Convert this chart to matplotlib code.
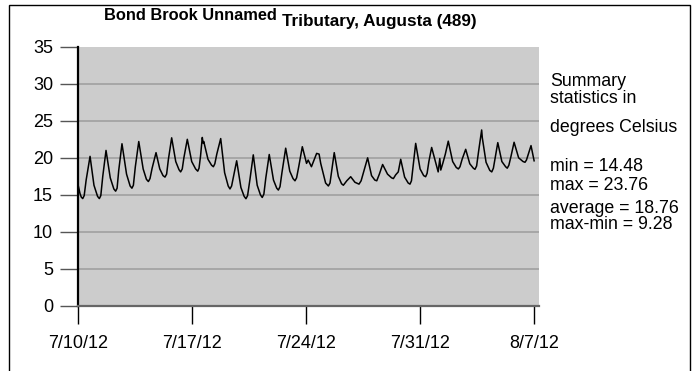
import matplotlib
matplotlib.use("Agg")
import matplotlib.pyplot as plt
from matplotlib.patches import Rectangle

plt.rcParams['font.family'] = ['Liberation Sans', 'DejaVu Sans']

# days since 7/10/12 00:00, water temperature (deg C)
days = [0.00, 0.12, 0.20, 0.29, 0.38, 0.50, 0.74, 0.98, 1.20, 1.31,
        1.40, 1.52, 1.72, 1.98, 2.20, 2.31, 2.40, 2.50, 2.70, 2.98,
        3.20, 3.31, 3.40, 3.52, 3.73, 4.00, 4.20, 4.32, 4.42, 4.55,
        4.79, 5.02, 5.22, 5.34, 5.44, 5.55, 5.75, 6.00, 6.20, 6.30,
        6.40, 6.50, 6.71, 6.98, 7.22, 7.35, 7.43, 7.52, 7.63, 7.68,
        7.72, 7.98, 8.20, 8.31, 8.40, 8.52, 8.76, 9.00, 9.22, 9.33,
        9.43, 9.55, 9.74, 10.00, 10.20, 10.31, 10.41, 10.55, 10.76, 11.00,
        11.20, 11.31, 11.41, 11.53, 11.74, 12.00, 12.20, 12.30, 12.40, 12.52,
        12.75, 13.00, 13.20, 13.32, 13.42, 13.55, 13.77, 14.03, 14.13, 14.33,
        14.65, 14.80, 14.90, 15.20, 15.37, 15.47, 15.58, 15.73, 15.98, 16.18,
        16.29, 16.50, 16.74, 17.00, 17.25, 17.38, 17.52, 17.78, 18.02, 18.22,
        18.34, 18.50, 18.70, 19.00, 19.25, 19.36, 19.50, 19.66, 19.81, 20.05,
        20.27, 20.38, 20.47, 20.58, 20.73, 21.00, 21.22, 21.34, 21.43, 21.54,
        21.71, 22.11, 22.21, 22.27, 22.40, 22.55, 22.73, 23.00, 23.22, 23.35,
        23.45, 23.58, 23.80, 24.05, 24.27, 24.37, 24.47, 24.60, 24.78, 24.82,
        25.05, 25.28, 25.40, 25.50, 25.60, 25.77, 26.02, 26.25, 26.35, 26.45,
        26.57, 26.77, 27.05, 27.32, 27.44, 27.53, 27.63, 27.81, 28.00]
temps = [16.4, 15.2, 14.7, 14.5, 14.9, 17.0, 20.2, 16.3, 14.8, 14.5,
         14.9, 17.5, 21.0, 17.3, 15.8, 15.5, 15.9, 18.3, 21.9, 17.8,
         16.2, 15.9, 16.3, 18.8, 22.2, 18.5, 17.1, 16.8, 17.2, 18.6,
         20.7, 18.5, 17.6, 17.4, 17.8, 19.8, 22.7, 19.5, 18.4, 18.1,
         18.5, 20.0, 22.5, 19.5, 18.5, 18.2, 18.6, 20.2, 22.75, 22.0,
         22.2, 19.8, 19.0, 18.8, 19.2, 20.5, 22.6, 18.0, 16.2, 15.8,
         16.2, 17.5, 19.6, 16.0, 14.8, 14.48, 14.9, 17.0, 20.4, 16.3,
         15.0, 14.65, 15.1, 17.3, 20.45, 17.0, 15.9, 15.65, 16.1, 18.0,
         21.3, 18.2, 17.2, 16.9, 17.3, 18.8, 21.5, 19.25, 19.7, 18.8,
         20.6, 20.5, 19.25, 16.6, 16.2, 16.6, 18.3, 20.7, 17.5, 16.5,
         16.3, 16.9, 17.45, 16.7, 16.45, 16.9, 18.0, 20.0, 17.6, 17.0,
         16.9, 17.8, 19.1, 17.8, 17.3, 17.2, 17.7, 18.1, 19.8, 17.4,
         16.6, 16.45, 16.9, 19.0, 21.95, 18.5, 17.6, 17.45, 17.9, 19.5,
         21.4, 18.1, 19.9, 18.35, 19.3, 20.5, 22.25, 19.5, 18.7, 18.5,
         18.8, 19.8, 21.15, 19.2, 18.6, 18.45, 18.9, 21.0, 23.76, 22.7,
         19.4, 18.3, 18.1, 18.6, 19.9, 22.05, 19.5, 18.8, 18.6, 19.0,
         20.1, 22.1, 20.0, 19.5, 19.4, 19.7, 20.4, 21.65, 19.6]

x_ticks = [0, 7, 14, 21, 28]
x_labels = ['7/10/12', '7/17/12', '7/24/12', '7/31/12', '8/7/12']
y_ticks = [0, 5, 10, 15, 20, 25, 30, 35]

stats_text = ['Summary', 'statistics in', 'degrees Celsius',
              'min = 14.48', 'max = 23.76', 'average = 18.76', 'max-min = 9.28']
stats_base = [86, 103, 131.5, 171, 190, 212.5, 229.5]   # pixel baselines

W, H = 695, 371
fig = plt.figure(figsize=(W / 100, H / 100), dpi=100)
ax = fig.add_axes([78 / W, 1 - 306 / H, (539 - 78) / W, (306 - 46.7) / H])

ax.set_facecolor('#cccccc')
ax.plot(days, temps, color='black', lw=1.1)

ax.set_xlim(0, 28.3)
ax.set_ylim(0, 35)
ax.set_xticks(x_ticks)
ax.set_xticklabels(x_labels)
ax.set_yticks(y_ticks)

for y in y_ticks[1:-1]:
    ax.axhline(y, color='#a0a0a0', lw=1.2, zorder=0.5)

ax.tick_params(axis='y', length=13, width=1, color='#555555', pad=5, labelsize=13)
ax.tick_params(axis='x', length=13, width=1, color='black', pad=8, labelsize=13)

for s in ['top', 'right']:
    ax.spines[s].set_visible(False)
ax.spines['left'].set_color('black')
ax.spines['left'].set_linewidth(1.6)
ax.spines['bottom'].set_color('#666666')
ax.spines['bottom'].set_linewidth(1.6)

# title is split, second half sits a bit lower
fig.text(277 / W, 1 - 20.5 / H, 'Bond Brook Unnamed', ha='right', va='baseline',
         fontsize=11.8, fontweight='bold')
fig.text(282 / W, 1 - 26 / H, 'Tributary, Augusta (489)', ha='left', va='baseline',
         fontsize=12.3, fontweight='bold')

for txt, yb in zip(stats_text, stats_base):
    fig.text(550 / W, 1 - yb / H, txt, ha='left', va='baseline', fontsize=12.8)

# outer frame (runs off the bottom edge)
fig.patches.append(Rectangle((9 / W, -0.1), (690 - 9) / W, 1 - 5 / H + 0.1,
                             transform=fig.transFigure, fill=False,
                             edgecolor='black', lw=1))

fig.savefig('out.png', dpi=100)
